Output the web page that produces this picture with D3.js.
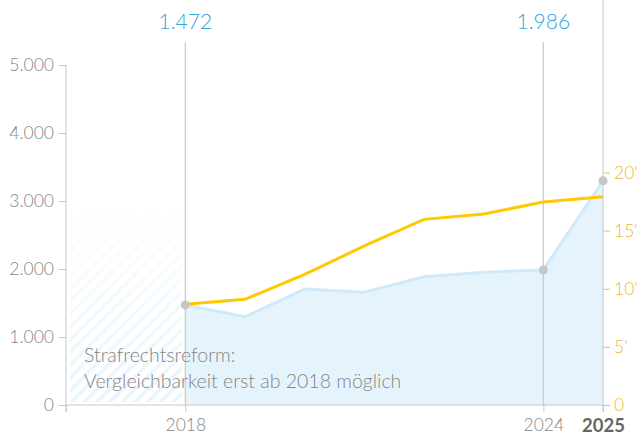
<!DOCTYPE html>
<html>
<head>
<meta charset="utf-8">
<script src="https://cdn.jsdelivr.net/npm/d3@7"></script>
<style>
  body { margin: 0; background: #fff; }
  text { font-family: Lato, "Open Sans", sans-serif; font-weight: 300; }
</style>
</head>
<body>
<svg></svg>
<script>
// Data
const years = [2018, 2019, 2020, 2021, 2022, 2023, 2024, 2025];
const cases = [1472, 1298, 1705, 1657, 1887, 1951, 1986, 3298];       // left axis
const perCapita = [8.66, 9.09, 11.24, 13.68, 15.97, 16.43, 17.46, 17.92]; // right axis, thousands
const highlightYears = [2018, 2024];
const dotYears = [2018, 2024, 2025];
const leftTicks = [0, 1000, 2000, 3000, 4000, 5000];
const rightTicks = [0, 5, 10, 15, 20];
const xTickYears = [2016, 2018, 2024, 2025];
const noteLines = ["Strafrechtsreform:", "Vergleichbarkeit erst ab 2018 möglich"];

const data = years.map((y, i) => ({year: y, cases: cases[i], rate: perCapita[i]}));

const svgWidth = 640;
const svgHeight = 439;
const margins = {top: 65, right: 37, bottom: 34, left: 66};

const scaleX = d3.scaleLinear()
	.domain([2016, 2025])
	.range([margins.left, svgWidth - margins.right]);

const scaleY = d3.scaleLinear()
	.domain([0, 5000])
	.range([svgHeight - margins.bottom, margins.top]);

const scaleY2 = d3.scaleLinear()
	.domain([0, 29.25])
	.range([svgHeight - margins.bottom, margins.top]);

const chart = d3.select('svg')
	.attr('width', svgWidth)
	.attr('height', svgHeight);

const baseY = scaleY(0);
const fmt = d3.formatLocale({decimal: ",", thousands: ".", grouping: [3]}).format(",");

// Hatch pattern for the non comparable years
const defs = chart.append("defs");
const pattern = defs.append("pattern")
	.attr("id", "hatch")
	.attr("patternUnits", "userSpaceOnUse")
	.attr("width", 9)
	.attr("height", 9)
	.attr("patternTransform", "rotate(45)");
pattern.append("rect")
	.attr("width", 3.5)
	.attr("height", 9)
	.attr("fill", "#e6f4fc");

const grad = defs.append("linearGradient")
	.attr("id", "fade")
	.attr("x1", 0).attr("y1", 1).attr("x2", 0).attr("y2", 0);
grad.append("stop").attr("offset", "0%").attr("stop-color", "#fff").attr("stop-opacity", 1);
grad.append("stop").attr("offset", "40%").attr("stop-color", "#fff").attr("stop-opacity", 0.55);
grad.append("stop").attr("offset", "100%").attr("stop-color", "#fff").attr("stop-opacity", 0);
defs.append("mask").attr("id", "fadeMask")
	.append("rect")
	.attr("x", scaleX(2016)).attr("y", scaleY(3000))
	.attr("width", scaleX(2018) - scaleX(2016)).attr("height", baseY - scaleY(3000))
	.attr("fill", "url(#fade)");

chart.append("rect")
	.attr("x", scaleX(2016) + 4)
	.attr("y", scaleY(3000))
	.attr("width", scaleX(2018) - scaleX(2016) - 7)
	.attr("height", baseY - scaleY(3000) - 3)
	.attr("fill", "url(#hatch)")
	.attr("mask", "url(#fadeMask)");

// Area for cases
const area = d3.area()
	.x(d => scaleX(d.year))
	.y0(baseY)
	.y1(d => scaleY(d.cases));

chart.append("path")
	.datum(data)
	.attr("fill", "#e5f4fc")
	.attr("d", area);

chart.append("path")
	.datum(data)
	.attr("fill", "none")
	.attr("stroke", "#d0eaf9")
	.attr("stroke-width", 3)
	.attr("d", d3.line().x(d => scaleX(d.year)).y(d => scaleY(d.cases)));

// Highlight lines with values
highlightYears.forEach(y => {
	const d = data.find(e => e.year === y);
	chart.append("line")
		.attr("x1", scaleX(y)).attr("x2", scaleX(y))
		.attr("y1", 42).attr("y2", baseY)
		.attr("stroke", "#c8c8c8")
		.attr("stroke-width", 1.2);
	chart.append("text")
		.attr("x", scaleX(y))
		.attr("y", 29)
		.attr("text-anchor", "middle")
		.attr("fill", "#35a2d8")
		.attr("font-size", 21)
		.text(fmt(d.cases));
});

// Rate line
chart.append("path")
	.datum(data)
	.attr("fill", "none")
	.attr("stroke", "#ffc800")
	.attr("stroke-width", 3)
	.attr("d", d3.line().x(d => scaleX(d.year)).y(d => scaleY2(d.rate)));

// Dots
chart.append("g")
	.selectAll("circle")
	.data(data.filter(d => dotYears.includes(d.year)))
	.join("circle")
	.attr("cx", d => scaleX(d.year))
	.attr("cy", d => scaleY(d.cases))
	.attr("r", 4.5)
	.attr("fill", "#c6c6c6");

// Left axis
chart.append("g")
	.attr("transform", `translate(${margins.left}, 0)`)
	.call(d3.axisLeft(scaleY).tickValues(leftTicks).tickSize(7).tickPadding(5).tickFormat(fmt))
	.call(g => g.selectAll("line, path").attr("stroke", "#c8c8c8"))
	.call(g => g.select(".domain").attr("d", `M0,${margins.top}V${baseY + 7}`))
	.call(g => g.selectAll("text").attr("fill", "#858585").attr("font-size", 17.5)
		.style("font-family", "Lato, sans-serif").style("font-weight", 300));

// Right axis
chart.append("g")
	.attr("transform", `translate(${scaleX(2025)}, 0)`)
	.call(d3.axisRight(scaleY2).tickValues(rightTicks).tickSize(7).tickPadding(4)
		.tickFormat(d => d === 0 ? "0" : d + "'"))
	.call(g => g.selectAll("line").attr("stroke", "#f4c04a"))
	.call(g => g.select(".domain").attr("stroke", "#c8c8c8").attr("d", `M0,0V${baseY + 7}`))
	.call(g => g.selectAll("text").attr("fill", "#f2b52c").attr("font-size", 17.5)
		.style("font-family", "Lato, sans-serif").style("font-weight", 300));

// Bottom axis
chart.append("g")
	.attr("transform", `translate(0, ${baseY})`)
	.call(d3.axisBottom(scaleX).tickValues(xTickYears).tickSize(7).tickPadding(7)
		.tickFormat(d => d === 2016 ? "" : d))
	.call(g => g.selectAll("line, path").attr("stroke", "#c8c8c8"))
	.call(g => g.select(".domain").attr("d", `M${margins.left},0H${scaleX(2025)}`))
	.call(g => g.selectAll("text").attr("fill", d => d === 2025 ? "#666" : "#858585")
		.attr("font-size", d => d === 2025 ? 18.5 : 17.5)
		.style("font-family", "Lato, sans-serif")
		.style("font-weight", d => d === 2025 ? 700 : 300));

// Note
chart.append("g")
	.selectAll("text")
	.data(noteLines)
	.join("text")
	.attr("x", 84)
	.attr("y", (d, i) => 362 + i * 26)
	.attr("fill", "#858585")
	.attr("font-size", 19.5)
	.text(d => d);
</script>
</body>
</html>
